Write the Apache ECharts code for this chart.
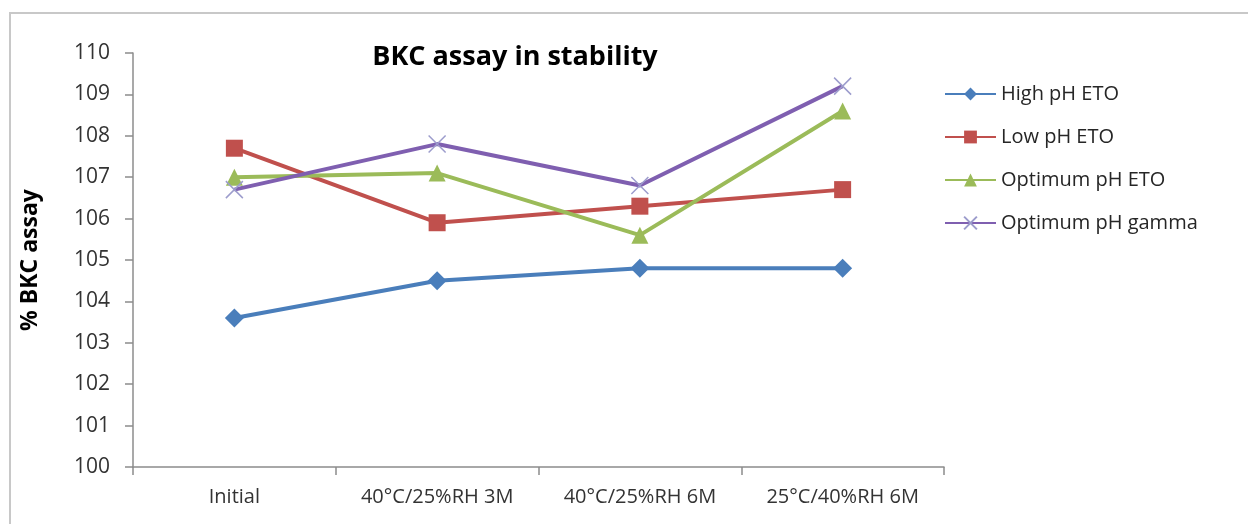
<!DOCTYPE html>
<html>
<head>
<meta charset="utf-8">
<script src="https://cdn.jsdelivr.net/npm/echarts@6/dist/echarts.min.js"></script>
<style>
  html, body { margin: 0; padding: 0; background: #fff; }
  #frame { position: absolute; left: 9px; top: 12px; width: 1260px; height: 540px;
           border-left: 2px solid #c8c8c8; border-top: 2px solid #c8c8c8; }
  #chart { position: absolute; left: 0; top: 0; width: 1248px; height: 524px; }
</style>
</head>
<body>
<div id="frame"></div>
<div id="chart"></div>
<script>
const categories = ['Initial', '40°C/25%RH 3M', '40°C/25%RH 6M', '25°C/40%RH 6M'];
const seriesNames = ['High pH ETO', 'Low pH ETO', 'Optimum pH ETO', 'Optimum pH gamma'];
const highPhEto = [103.6, 104.5, 104.8, 104.8];
const lowPhEto = [107.7, 105.9, 106.3, 106.7];
const optimumPhEto = [107.0, 107.1, 105.6, 108.6];
const optimumPhGamma = [106.7, 107.8, 106.8, 109.2];
const yTicks = { min: 100, max: 110, interval: 1 };

const FONT = '"Open Sans", Lato, sans-serif';
const xPath = 'path://M0,0 L10,10 M10,0 L0,10';

const chart = echarts.init(document.getElementById('chart'), null, { renderer: 'canvas' });

function lineSeries(name, data, color, symbol, size, extraItem) {
  return {
    name: name,
    type: 'line',
    data: data,
    symbol: symbol,
    symbolSize: size,
    showSymbol: true,
    lineStyle: { color: color, width: 4 },
    itemStyle: Object.assign({ color: color }, extraItem || {}),
    emphasis: { disabled: true },
    animation: false
  };
}

chart.setOption({
  backgroundColor: 'transparent',
  animation: false,
  title: {
    text: 'BKC assay in stability',
    left: 510,
    top: 39,
    textAlign: 'center',
    textStyle: { fontFamily: FONT, fontWeight: 'bold', fontSize: 27, color: '#000' }
  },
  legend: {
    orient: 'vertical',
    left: 944,
    top: 84,
    padding: 0,
    itemWidth: 51,
    itemHeight: 16,
    itemGap: 23,
    itemTextGap: 4,
    textStyle: { fontFamily: FONT, fontSize: 20, color: '#262626' },
    data: seriesNames
  },
  grid: { left: 133, right: 304, top: 53, bottom: 57, containLabel: false },
  xAxis: {
    type: 'category',
    data: categories,
    boundaryGap: true,
    axisLine: { lineStyle: { color: '#8c8c8c', width: 1.5 } },
    axisTick: { show: true, inside: false, length: 8, alignWithLabel: false, lineStyle: { color: '#8c8c8c', width: 1.5 } },
    axisLabel: { margin: 20, fontFamily: FONT, fontSize: 20, color: '#333' },
    splitLine: { show: false }
  },
  yAxis: {
    type: 'value',
    min: yTicks.min,
    max: yTicks.max,
    interval: yTicks.interval,
    name: '% BKC assay',
    nameLocation: 'middle',
    nameGap: 91,
    nameRotate: 90,
    nameTextStyle: { fontFamily: FONT, fontWeight: 'bold', fontSize: 23, color: '#000' },
    axisLine: { show: true, lineStyle: { color: '#8c8c8c', width: 1.5 } },
    axisTick: { show: true, inside: false, length: 8, lineStyle: { color: '#8c8c8c', width: 1.5 } },
    axisLabel: { margin: 23, fontFamily: FONT, fontSize: 21, color: '#333' },
    splitLine: { show: false }
  },
  series: [
    lineSeries(seriesNames[0], highPhEto, '#4a7ebb', 'diamond', 19),
    lineSeries(seriesNames[1], lowPhEto, '#c0504d', 'rect', 17),
    lineSeries(seriesNames[2], optimumPhEto, '#9bbb59', 'triangle', 17),
    lineSeries(seriesNames[3], optimumPhGamma, '#7f5fb0', xPath, 17,
      { color: 'none', borderColor: '#9c9ccc', borderWidth: 1.5 })
  ]
});
</script>
</body>
</html>
